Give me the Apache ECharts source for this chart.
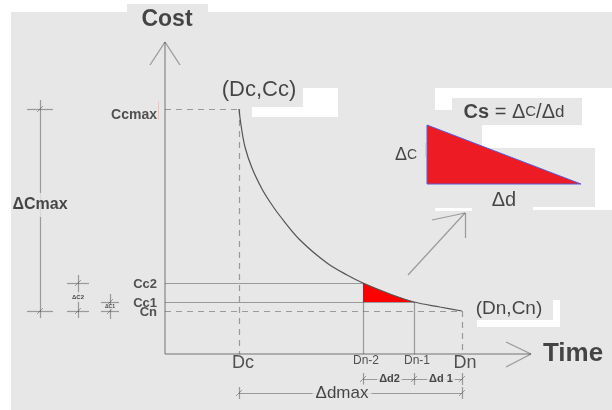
<!DOCTYPE html>
<html>
<head>
<meta charset="utf-8">
<style>
  html, body { margin: 0; padding: 0; background: #fff; }
  #chart { width: 612px; height: 410px; }
</style>
<script src="https://cdn.jsdelivr.net/npm/echarts@6/dist/echarts.min.js"></script>
</head>
<body>
<div id="chart"></div>
<script>
// time marks, measured from the origin
var timeLabels = ["Dc", "Dn-2", "Dn-1", "Dn"];
var timeValues = [74, 198, 249, 297];
// cost marks
var costLabels = ["Cn", "Cc1", "Cc2", "Ccmax"];
var costValues = [43, 52, 71, 245];
// time-cost curve
var curveTime = [74, 76, 80, 87, 97, 105, 115, 135, 162, 182, 198, 225, 249, 275, 297];
var curveCost = [245, 229, 207, 186, 165, 152, 138, 114, 91, 79, 71, 60, 52, 47, 43];
// axis lengths
var timeAxisEnd = 366;
var costAxisEnd = 312;
// enlarged slope triangle (time span, cost span)
var slopeTime = [262, 416];
var slopeCost = [170, 229];
// pointer arrow from the small triangle to the enlarged one
var pointerTime = [243, 300];
var pointerCost = [79, 141];

var INK = "#4d4d4d";
var TXT = "#1c1c1c";
var BG = "#e7e7e7";
var FONT = "Liberation Sans";

var tDc = timeValues[0], tN2 = timeValues[1], tN1 = timeValues[2], tN = timeValues[3];
var cN = costValues[0], c1 = costValues[1], c2 = costValues[2], cMax = costValues[3];

/** line segments **/
var segs = [];
function seg(x1, y1, x2, y2, dashed, w, color) {
  segs.push({
    coords: [[x1, y1], [x2, y2]],
    lineStyle: { type: dashed ? [6, 5] : "solid", width: w || 1.2, color: color || INK },
  });
}
function cross(x, y, vertical, len) {
  if (vertical) seg(x, y - len, x, y + len);
  else seg(x - len, y, x + len, y);
  seg(x - 3, y - 3, x + 3, y + 3, false, 1);
}

// axes with open arrow heads
seg(0, 0, 0, costAxisEnd, false, 1.5);
seg(0, 0, timeAxisEnd, 0, false, 1.5);
seg(-15, costAxisEnd - 23, 0, costAxisEnd, false, 1.3);
seg(15, costAxisEnd - 23, 0, costAxisEnd, false, 1.3);
seg(timeAxisEnd - 25, 12, timeAxisEnd, 0, false, 1.3);
seg(timeAxisEnd - 25, -13, timeAxisEnd, 0, false, 1.3);

// guide lines
seg(0, cMax, tDc, cMax, true);
seg(tDc, cMax, tDc, 0, true);
seg(0, c2, tN2, c2);
seg(tN2, c2, tN2, 0);
seg(0, c1, tN1, c1);
seg(tN1, c1, tN1, 0);
seg(0, cN, tN, cN, true);
seg(tN, cN, tN, 0, true);

// cost dimension lines on the left
seg(-125, cN - 7, -125, cMax + 9);
cross(-125, cMax, false, 13);
cross(-125, cN, false, 13);
seg(-87, cN - 7, -87, c2 + 8);
cross(-87, c2, false, 11);
cross(-87, cN, false, 11);
seg(-55, cN - 8, -55, c1 + 8);
cross(-55, c1, false, 9);
cross(-55, cN, false, 9);

// time dimension lines below
seg(tN2, -25, tN, -25);
cross(tN2, -25, true, 6);
cross(tN1, -25, true, 6);
cross(tN, -25, true, 6);
seg(tDc, -39, tN, -39);
cross(tDc, -39, true, 6);
cross(tN, -39, true, 6);

// pointer arrow
seg(pointerTime[0], pointerCost[0], pointerTime[1], pointerCost[1]);
seg(pointerTime[1] - 33, pointerCost[1] - 7, pointerTime[1], pointerCost[1]);
seg(pointerTime[1], pointerCost[1] - 25, pointerTime[1], pointerCost[1]);

// faint pink marks
seg(-7, cMax + 7, -7, cMax - 11, false, 1, "#e6a8a8");
seg(slopeTime[0] - 2, 211, slopeTime[0] - 2, 197, false, 1, "#e6a8a8");

/** labels **/
function lab(x, y, text, style) {
  return { value: [x, y], label: Object.assign({ formatter: text }, style || {}) };
}
var dimBg = { backgroundColor: BG, padding: [2, 2] };
var labels = [];

costLabels.forEach(function (name, i) {
  labels.push(lab(0, costValues[i], name, {
    position: "left", distance: 8, fontSize: name === "Ccmax" ? 14 : 13,
    fontWeight: "bold", color: "#2a2a2a", offset: name === "Ccmax" ? [0, 6] : [0, 1],
  }));
});
timeLabels.forEach(function (name, i) {
  var small = name.indexOf("-") > 0;
  labels.push(lab(timeValues[i], 0, name, {
    position: "bottom", distance: small ? 1 : 0, fontSize: small ? 12 : 18,
    color: "#2a2a2a", offset: [i === 0 ? 4 : 3, 0],
  }));
});

labels.push(lab(2, costAxisEnd + 22, "Cost", { fontSize: 23, fontWeight: "bold" }));
labels.push(lab(timeAxisEnd + 42, 0, "Time", { fontSize: 26, fontWeight: "bold" }));
labels.push(lab(tDc + 20, cMax + 19, "(Dc,Cc)", { fontSize: 22 }));
labels.push(lab(tN + 47, cN + 2, "(Dn,Cn)", { fontSize: 19 }));

labels.push(lab(-125, 149, "ΔCmax", { fontSize: 16, fontWeight: "bold", padding: [4, 0], backgroundColor: BG }));
labels.push(lab(-87, 57, "ΔC2", Object.assign({ fontSize: 6, fontWeight: "bold" }, dimBg)));
labels.push(lab(-55, 47, "ΔC1", { fontSize: 5, fontWeight: "bold", padding: [0, 1], backgroundColor: BG }));
labels.push(lab((tN2 + tN1) / 2 + 1, -25, "Δd2", Object.assign({ fontSize: 11, fontWeight: "bold" }, dimBg)));
labels.push(lab((tN1 + tN) / 2 + 3, -25, "Δd 1", Object.assign({ fontSize: 11, fontWeight: "bold" }, dimBg)));
labels.push(lab(177, -39, "Δdmax", { fontSize: 17, padding: [0, 3], backgroundColor: BG }));

labels.push(lab(349, 242, "{b|Cs} = Δ{s|C}/Δ{d|d}", {
  fontSize: 20,
  rich: {
    b: { fontSize: 20, fontWeight: "bold", color: TXT, fontFamily: FONT },
    s: { fontSize: 15, color: TXT, fontFamily: FONT },
    d: { fontSize: 17, color: TXT, fontFamily: FONT },
  },
}));
labels.push(lab(slopeTime[0] - 21, 199, "Δ{s|C}", {
  fontSize: 18,
  rich: { s: { fontSize: 14, color: TXT, fontFamily: FONT } },
}));
labels.push(lab((slopeTime[0] + slopeTime[1]) / 2, slopeCost[0] - 16, "Δd", { fontSize: 20 }));

/** chart **/
var dom = document.getElementById("chart");
var chart = echarts.init(dom, null, { renderer: "canvas" });

var option = {
  backgroundColor: BG,
  animation: false,
  grid: { left: 0, right: 0, top: 0, bottom: 0 },
  xAxis: { type: "value", min: -165, max: 447, show: false },
  yAxis: { type: "value", min: -56, max: 354, show: false },
  graphic: [
    // white paper showing through round the scan
    { type: "rect", shape: { x: 0, y: 0, width: 127, height: 12 }, style: { fill: "#fff" } },
    { type: "rect", shape: { x: 208, y: 0, width: 404, height: 12 }, style: { fill: "#fff" } },
    { type: "rect", shape: { x: 127, y: 0, width: 81, height: 4 }, style: { fill: "#fff" } },
    { type: "rect", shape: { x: 0, y: 0, width: 11, height: 410 }, style: { fill: "#fff" } },
    { type: "rect", shape: { x: 303, y: 88, width: 35, height: 29 }, style: { fill: "#fff" } },
    { type: "rect", shape: { x: 252, y: 107, width: 86, height: 10 }, style: { fill: "#fff" } },
    { type: "rect", shape: { x: 435, y: 88, width: 177, height: 10 }, style: { fill: "#fff" } },
    { type: "rect", shape: { x: 435, y: 98, width: 17, height: 12 }, style: { fill: "#fff" } },
    { type: "rect", shape: { x: 582, y: 98, width: 30, height: 50 }, style: { fill: "#fff" } },
    { type: "rect", shape: { x: 482, y: 125, width: 100, height: 23 }, style: { fill: "#fff" } },
    { type: "rect", shape: { x: 595, y: 148, width: 17, height: 62 }, style: { fill: "#fff" } },
    { type: "rect", shape: { x: 435, y: 208, width: 37, height: 3 }, style: { fill: "#fff" } },
    { type: "rect", shape: { x: 533, y: 207, width: 79, height: 3 }, style: { fill: "#fff" } },
    { type: "rect", shape: { x: 477, y: 320, width: 83, height: 7 }, style: { fill: "#fff" } },
    { type: "rect", shape: { x: 553, y: 300, width: 7, height: 27 }, style: { fill: "#fff" } },
  ],
  series: [
    {
      // small cost-slope patch under the curve
      type: "custom",
      z: 1,
      silent: true,
      data: [[tN2, c1]],
      renderItem: function (params, api) {
        var pts = [api.coord([tN2, c2])];
        curveTime.forEach(function (t, i) {
          if (t > tN2 && t <= tN1) pts.push(api.coord([t, curveCost[i]]));
        });
        pts.push(api.coord([tN2, c1]));
        return { type: "polygon", shape: { points: pts }, style: { fill: "#ff0000" } };
      },
    },
    {
      // enlarged slope triangle
      type: "custom",
      z: 1,
      silent: true,
      data: [[slopeTime[0], slopeCost[0]]],
      renderItem: function (params, api) {
        var pts = [
          api.coord([slopeTime[0], slopeCost[1]]),
          api.coord([slopeTime[0], slopeCost[0]]),
          api.coord([slopeTime[1], slopeCost[0]]),
        ];
        return {
          type: "polygon",
          shape: { points: pts },
          style: { fill: "#ed1c24", stroke: "#5b5bd6", lineWidth: 1 },
        };
      },
    },
    {
      type: "line",
      z: 3,
      silent: true,
      data: curveTime.map(function (t, i) { return [t, curveCost[i]]; }),
      smooth: 0.35,
      symbol: "none",
      lineStyle: { color: "#555", width: 1.2 },
    },
    {
      type: "lines",
      coordinateSystem: "cartesian2d",
      z: 4,
      silent: true,
      data: segs,
    },
    {
      type: "scatter",
      z: 5,
      silent: true,
      symbolSize: 0,
      label: { show: true, position: "inside", color: TXT, fontFamily: FONT },
      data: labels,
    },
  ],
};

chart.setOption(option);
window.addEventListener("resize", chart.resize);
</script>
</body>
</html>
